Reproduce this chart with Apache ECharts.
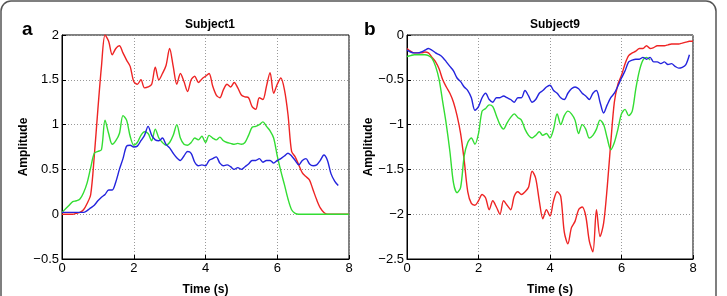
<!DOCTYPE html>
<html>
<head>
<meta charset="utf-8">
<script src="https://cdn.jsdelivr.net/npm/echarts@6/dist/echarts.min.js"></script>
<style>
  html, body { margin: 0; padding: 0; background: #fff; }
  #chart { width: 727px; height: 296px; }
</style>
</head>
<body>
<div id="chart"></div>
<script>
// sample times (s)
var times = [0,0.1,0.2,0.3,0.4,0.5,0.6,0.7,0.8,0.9,1,1.1,1.2,1.3,1.4,1.5,1.6,1.7,1.8,1.9,
  2,2.1,2.2,2.3,2.4,2.5,2.6,2.7,2.8,2.9,3,3.1,3.2,3.3,3.4,3.5,3.6,3.7,3.8,3.9,
  4,4.1,4.2,4.3,4.4,4.5,4.6,4.7,4.8,4.9,5,5.1,5.2,5.3,5.4,5.5,5.6,5.7,5.8,5.9,
  6,6.1,6.2,6.3,6.4,6.5,6.6,6.7,6.8,6.9,7,7.1,7.2,7.3,7.4,7.5,7.6,7.7,7.8,7.9,8];

var xTicks = [0, 2, 4, 6, 8];
var yTicksA = [-0.5, 0, 0.5, 1, 1.5, 2];
var yTicksB = [-2.5, -2, -1.5, -1, -0.5, 0];

// Subject1
var s1Red = [0,0,0,0,0.01,0.02,0.05,0.12,0.22,0.65,1.17,1.65,2.0,1.93,1.78,1.85,1.88,1.8,1.72,1.65,
  1.48,1.45,1.5,1.41,1.42,1.45,1.64,1.5,1.57,1.66,1.85,1.65,1.45,1.57,1.48,1.37,1.5,1.54,1.47,1.51,
  1.54,1.57,1.43,1.33,1.3,1.39,1.45,1.42,1.47,1.41,1.33,1.31,1.3,1.2,1.17,1.3,1.28,1.43,1.58,1.35,
  1.45,1.52,1.39,1.11,0.7,0.64,0.55,0.46,0.42,0.38,0.27,0.16,0.07,0.02,0,0,0,0,0,0,0];
var s1Green = [0.02,0.06,0.1,0.14,0.15,0.17,0.24,0.35,0.52,0.68,0.7,0.72,1.05,0.9,0.78,0.82,0.9,1.1,1.05,0.87,
  0.77,0.8,0.88,0.92,0.9,0.82,0.95,0.85,0.8,0.77,0.8,0.88,1.0,0.85,0.78,0.77,0.8,0.85,0.83,0.87,
  0.8,0.88,0.85,0.83,0.86,0.82,0.8,0.79,0.78,0.79,0.78,0.8,0.88,0.97,0.98,1.0,1.03,0.98,0.93,0.85,
  0.65,0.48,0.33,0.17,0.05,0.01,0,0,0,0,0,0,0,0,0,0,0,0,0,0,0];
var s1Blue = [0.02,0.02,0.02,0.02,0.02,0.02,0.02,0.04,0.07,0.1,0.15,0.19,0.22,0.27,0.27,0.36,0.5,0.62,0.76,0.77,
  0.75,0.76,0.82,0.88,0.98,0.88,0.83,0.82,0.85,0.78,0.74,0.68,0.63,0.6,0.65,0.7,0.68,0.58,0.54,0.55,
  0.54,0.6,0.62,0.64,0.57,0.54,0.55,0.53,0.5,0.52,0.5,0.53,0.56,0.6,0.6,0.62,0.58,0.6,0.6,0.57,
  0.6,0.62,0.65,0.68,0.65,0.6,0.55,0.6,0.62,0.56,0.54,0.55,0.6,0.66,0.6,0.45,0.37,0.32];

// Subject9
var s9Red = [-0.15,-0.18,-0.2,-0.2,-0.2,-0.19,-0.2,-0.25,-0.3,-0.38,-0.5,-0.58,-0.65,-0.75,-0.9,-1.1,-1.4,-1.75,-1.88,-1.9,
  -1.85,-1.78,-1.82,-1.95,-1.85,-1.92,-2.0,-1.85,-1.9,-1.95,-1.8,-1.75,-1.78,-1.75,-1.7,-1.52,-1.6,-1.85,-2.05,-1.95,
  -2.02,-1.85,-1.75,-1.8,-2.2,-2.33,-2.15,-2.08,-1.95,-1.92,-2.02,-2.3,-2.42,-1.95,-2.25,-2.1,-1.7,-1.2,-0.75,-0.55,
  -0.45,-0.32,-0.23,-0.2,-0.18,-0.15,-0.15,-0.12,-0.15,-0.14,-0.12,-0.12,-0.12,-0.11,-0.1,-0.1,-0.1,-0.09,-0.08,-0.07,-0.07];
var s9Green = [-0.24,-0.23,-0.22,-0.22,-0.22,-0.22,-0.23,-0.26,-0.35,-0.5,-0.75,-1.0,-1.3,-1.65,-1.76,-1.7,-1.35,-1.2,-1.15,-1.22,
  -1.1,-0.85,-0.82,-0.78,-0.8,-0.9,-1.0,-1.05,-0.98,-0.92,-0.88,-0.92,-0.95,-1.05,-1.12,-1.15,-1.12,-1.08,-1.12,-1.1,
  -1.15,-1.05,-0.88,-1.0,-0.9,-0.85,-0.88,-0.95,-1.1,-1.0,-1.05,-1.15,-1.12,-1.05,-0.95,-1.0,-1.15,-1.28,-1.2,-1.05,
  -0.88,-0.83,-0.9,-0.85,-0.6,-0.4,-0.28,-0.25,-0.28];
var s9Blue = [-0.17,-0.19,-0.2,-0.2,-0.19,-0.17,-0.15,-0.17,-0.2,-0.22,-0.25,-0.3,-0.35,-0.4,-0.48,-0.52,-0.58,-0.62,-0.7,-0.84,
  -0.8,-0.7,-0.65,-0.72,-0.75,-0.7,-0.7,-0.68,-0.7,-0.72,-0.75,-0.7,-0.7,-0.62,-0.68,-0.75,-0.72,-0.65,-0.62,-0.58,
  -0.56,-0.62,-0.65,-0.7,-0.72,-0.65,-0.6,-0.58,-0.6,-0.65,-0.68,-0.72,-0.65,-0.62,-0.75,-0.87,-0.78,-0.7,-0.65,-0.57,
  -0.48,-0.4,-0.3,-0.28,-0.27,-0.27,-0.25,-0.27,-0.25,-0.3,-0.3,-0.32,-0.3,-0.33,-0.32,-0.35,-0.37,-0.36,-0.33,-0.22];

var RED = '#ee2424', GREEN = '#33dd33', BLUE = '#2424dd';
var FONT = '"Liberation Sans", Arial, sans-serif';

function pairs(vals) {
  var out = [];
  for (var i = 0; i < vals.length; i++) out.push([times[i], vals[i]]);
  return out;
}

function fmt(v) {
  return v < 0 ? '\u2212' + Math.abs(v) : String(v);
}

function xAx(idx) {
  return {
    type: 'value', gridIndex: idx, min: xTicks[0], max: xTicks[xTicks.length - 1], interval: 2,
    name: 'Time (s)', nameLocation: 'middle', nameGap: 25,
    nameTextStyle: { fontFamily: FONT, fontWeight: 'bold', fontSize: 12, color: '#000' },
    axisLine: { onZero: false, lineStyle: { color: '#000', width: 1 } },
    axisTick: { inside: true, length: 4, lineStyle: { color: '#000' } },
    axisLabel: { fontFamily: FONT, fontSize: 13, color: '#000', margin: 3 },
    splitLine: { show: true, lineStyle: { color: '#999', type: [1, 2], width: 1 } }
  };
}

function yAx(idx, ticks, gap) {
  return {
    type: 'value', gridIndex: idx, min: ticks[0], max: ticks[ticks.length - 1], interval: 0.5,
    name: 'Amplitude', nameLocation: 'middle', nameGap: gap,
    nameTextStyle: { fontFamily: FONT, fontWeight: 'bold', fontSize: 12, color: '#000' },
    axisLine: { onZero: false, lineStyle: { color: '#000', width: 1 } },
    axisTick: { inside: true, length: 4, lineStyle: { color: '#000' } },
    axisLabel: { fontFamily: FONT, fontSize: 13, color: '#000', margin: 3, formatter: fmt },
    splitLine: { show: true, lineStyle: { color: '#999', type: [1, 2], width: 1 } }
  };
}

function line(name, vals, color, idx) {
  return {
    name: name, type: 'line', xAxisIndex: idx, yAxisIndex: idx,
    data: pairs(vals), showSymbol: false, smooth: 0.3,
    lineStyle: { color: color, width: 1.4 }, itemStyle: { color: color },
    animation: false
  };
}

var chart = echarts.init(document.getElementById('chart'));
chart.setOption({
  backgroundColor: '#fff',
  animation: false,
  title: [
    { text: 'Subject1', left: 205, top: 14, textAlign: 'center',
      textStyle: { fontFamily: FONT, fontWeight: 'bold', fontSize: 12, color: '#000' } },
    { text: 'Subject9', left: 550, top: 14, textAlign: 'center',
      textStyle: { fontFamily: FONT, fontWeight: 'bold', fontSize: 12, color: '#000' } }
  ],
  grid: [
    { left: 62, top: 35, width: 287, height: 224, show: true, borderColor: '#000', borderWidth: 1,
      containLabel: false, outerBoundsMode: 'none' },
    { left: 407, top: 35, width: 286, height: 224, show: true, borderColor: '#000', borderWidth: 1,
      containLabel: false, outerBoundsMode: 'none' }
  ],
  xAxis: [xAx(0), xAx(1)],
  yAxis: [yAx(0, yTicksA, 27), yAx(1, yTicksB, 30)],
  series: [
    line('red', s1Red, RED, 0),
    line('green', s1Green, GREEN, 0),
    line('blue', s1Blue, BLUE, 0),
    line('red', s9Red, RED, 1),
    line('green', s9Green, GREEN, 1),
    line('blue', s9Blue, BLUE, 1)
  ],
  graphic: [
    { type: 'rect', shape: { x: 1, y: 1, width: 715, height: 320, r: 10 },
      style: { fill: 'none', stroke: '#555', lineWidth: 1.5 }, silent: true },
    { type: 'text', left: 22, top: 20,
      style: { text: 'a', font: 'bold 19px ' + FONT, fill: '#000' } },
    { type: 'text', left: 364, top: 20,
      style: { text: 'b', font: 'bold 19px ' + FONT, fill: '#000' } }
  ]
});
</script>
</body>
</html>
